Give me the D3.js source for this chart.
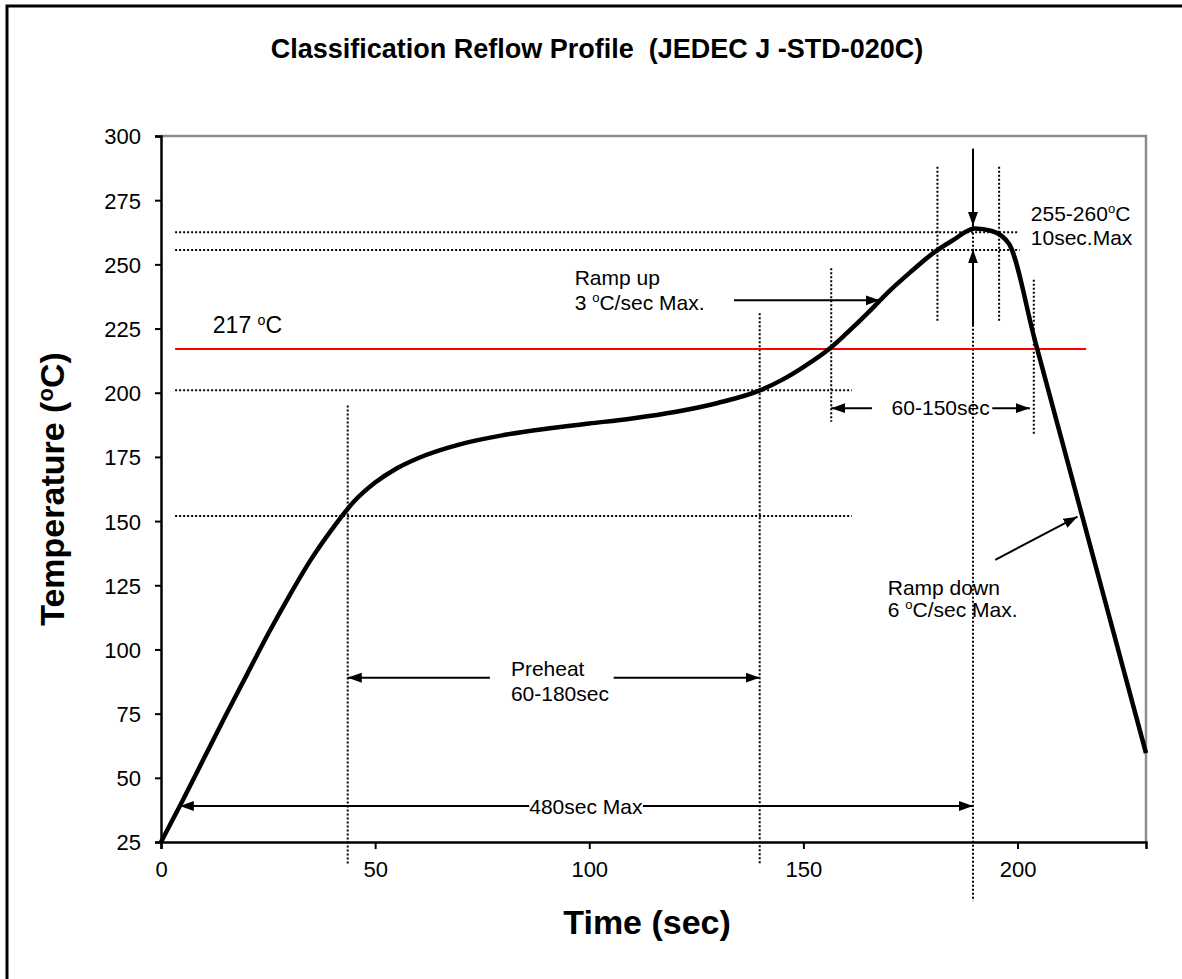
<!DOCTYPE html>
<html>
<head>
<meta charset="utf-8">
<script src="https://cdn.jsdelivr.net/npm/d3@7"></script>
<style>
  body { margin: 0; background: #fff; }
  svg { display: block; font-family: "Liberation Sans", Arial, sans-serif; }
  .pre { white-space: pre; }
</style>
</head>
<body>
<svg id="chart" width="1182" height="979"></svg>
<script>
// reflow profile (sec, degC)
var timeSec = [0, 5, 10, 15, 20, 25, 30, 35, 40, 45, 50, 55, 60, 70, 80, 90, 100, 110, 120, 130,
  140, 145, 150, 156, 160, 165, 170, 175, 180, 185, 190, 194, 198, 204, 210, 215, 220, 225, 230]
var tempC = [25, 41, 57.5, 74, 90, 106, 121, 135, 147, 157.5, 165, 170.5, 174.5, 180, 183.5, 186, 188, 190, 192.5, 196,
  201, 205, 210, 217, 223, 231, 239.5, 247, 254, 259.5, 264, 263, 258, 220.8, 183.6, 152.6, 121.6, 90.6, 59.6]

var xTicks = [0, 50, 100, 150, 200]
var yTicks = [25, 50, 75, 100, 125, 150, 175, 200, 225, 250, 275, 300]

var liquidus = 217
var liquidusSpan = [3.3, 216]

// dotted guide lines [value, from, to]
var hGuides = [[262.5, 3.3, 200.3], [255.6, 3.3, 200.5], [201, 3.3, 161.3], [152, 3.3, 161.3]]
// vertical guides [sec, from degC, to degC]
var vGuides = [[43.6, 195, 16], [139.8, 231, 16], [156.5, 248.5, 188.7], [181.3, 288, 228],
  [195.7, 288, 228], [189.6, 295, 2], [203.8, 244, 184]]

var width = 1182, height = 979
var svg = d3.select('#chart')

var x = d3.scaleLinear().domain([0, 230]).range([161, 1146])
var y = d3.scaleLinear().domain([25, 300]).range([842, 136])

// arrow heads
var defs = svg.append('defs')
defs.append('marker')
  .attr('id', 'head')
  .attr('markerUnits', 'userSpaceOnUse')
  .attr('viewBox', '0 -6 14 12')
  .attr('refX', 14).attr('refY', 0)
  .attr('markerWidth', 14).attr('markerHeight', 12)
  .attr('orient', 'auto-start-reverse')
  .append('path').attr('d', 'M0,-5L14,0L0,5Z').attr('fill', '#000')

// outer frame (only left and top edges show)
svg.append('path')
  .attr('d', 'M7,' + height + 'V6H' + width)
  .attr('fill', 'none').attr('stroke', '#000').attr('stroke-width', 3)

// plot box, grey top and right
svg.append('path')
  .attr('d', 'M' + x(0) + ',' + y(300) + 'H' + x(230) + 'V' + y(25))
  .attr('fill', 'none').attr('stroke', '#8c8c8c').attr('stroke-width', 2.5)

// axes
var xAxis = svg.append('g')
  .attr('transform', 'translate(0,' + y(25) + ')')
  .call(d3.axisBottom(x).tickValues(xTicks).tickSize(7).tickPadding(12))
var yAxis = svg.append('g')
  .attr('transform', 'translate(' + x(0) + ',0)')
  .call(d3.axisLeft(y).tickValues(yTicks).tickSize(6).tickPadding(14))

svg.selectAll('.domain').attr('stroke', '#000').attr('stroke-width', 2.5)
svg.selectAll('.tick line').attr('stroke', '#000').attr('stroke-width', 2)
svg.selectAll('.tick text').attr('font-size', 22).attr('fill', '#000')
  .attr('font-family', '"Liberation Sans", Arial, sans-serif')
yAxis.selectAll('.tick text').attr('dy', '0.36em')

// dotted guides
svg.append('g').selectAll('line.h')
  .data(hGuides).join('line')
  .attr('x1', function(d) { return x(d[1]) })
  .attr('x2', function(d) { return x(d[2]) })
  .attr('y1', function(d) { return y(d[0]) })
  .attr('y2', function(d) { return y(d[0]) })
  .attr('stroke', '#000').attr('stroke-width', 2).attr('stroke-dasharray', '2,2')

svg.append('g').selectAll('line.v')
  .data(vGuides).join('line')
  .attr('x1', function(d) { return x(d[0]) })
  .attr('x2', function(d) { return x(d[0]) })
  .attr('y1', function(d) { return y(d[1]) })
  .attr('y2', function(d) { return y(d[2]) })
  .attr('stroke', '#000').attr('stroke-width', 2).attr('stroke-dasharray', '2,2')

// 217 line
svg.append('line')
  .attr('x1', x(liquidusSpan[0])).attr('x2', x(liquidusSpan[1]))
  .attr('y1', y(liquidus)).attr('y2', y(liquidus))
  .attr('stroke', '#ff0000').attr('stroke-width', 2)

// profile curve
var line = d3.line()
  .x(function(d, i) { return x(timeSec[i]) })
  .y(function(d, i) { return y(tempC[i]) })
  .curve(d3.curveMonotoneX)

svg.append('path')
  .datum(tempC)
  .attr('d', line)
  .attr('fill', 'none').attr('stroke', '#000').attr('stroke-width', 4.5)
  .attr('stroke-linejoin', 'round')

// arrows [x1, y1, x2, y2, heads]
function arrow(x1, y1, x2, y2, both) {
  var a = svg.append('line')
    .attr('x1', x(x1)).attr('y1', y(y1))
    .attr('x2', x(x2)).attr('y2', y(y2))
    .attr('stroke', '#000').attr('stroke-width', 2)
    .attr('marker-end', 'url(#head)')
  if (both) a.attr('marker-start', 'url(#head)')
  return a
}

arrow(4.4, 39, 189.6, 39, true)
arrow(76.8, 89, 43.6, 89)
arrow(105.7, 89, 139.8, 89)
arrow(166, 194, 156.5, 194)
arrow(194.1, 194, 202.9, 194)
arrow(133.8, 236, 167.8, 236)
arrow(189.6, 295, 189.6, 265)
arrow(189.6, 226.4, 189.6, 255.8)
arrow(194.8, 134.9, 214, 151.7)

// text helpers
function label(sx, deg, parts, size) {
  var t = svg.append('text')
    .attr('x', x(sx)).attr('y', y(deg))
    .attr('font-size', size || 21).attr('fill', '#000')
  parts.forEach(function(p) {
    if (p.sup) {
      t.append('tspan').attr('font-size', (size || 21) * 0.62).attr('dy', -8).text(p.sup)
      t.append('tspan').attr('dy', 8).text(p.t || '')
    } else {
      t.append('tspan').text(p.t)
    }
  })
  return t
}

label(12.1, 223.3, [{t: '217 '}, {sup: 'o', t: 'C'}], 23)
label(96.6, 242, [{t: 'Ramp up'}])
label(96.6, 232.2, [{t: '3 '}, {sup: 'o', t: 'C/sec Max.'}])
label(81.7, 89.7, [{t: 'Preheat'}])
label(81.7, 79.9, [{t: '60-180sec'}])
label(170.6, 191.3, [{t: '60-150sec'}])
label(203.1, 266.8, [{t: '255-260'}, {sup: 'o', t: 'C'}])
label(203.1, 257.5, [{t: '10sec.Max'}])
label(169.7, 121.2, [{t: 'Ramp down'}])
label(169.7, 112.5, [{t: '6 '}, {sup: 'o', t: 'C/sec Max.'}])

// 480 sec label sits on the arrow with a white box
var t480 = svg.append('text')
  .attr('x', x(99.2)).attr('y', y(39)).attr('dy', '0.36em')
  .attr('text-anchor', 'middle').attr('font-size', 21).text('480sec Max')
var bb = t480.node().getBBox()
svg.insert('rect', function() { return t480.node() })
  .attr('x', bb.x).attr('y', bb.y + 3).attr('width', bb.width).attr('height', bb.height - 6)
  .attr('fill', '#fff')

// titles
svg.append('text')
  .attr('class', 'pre')
  .attr('x', 597).attr('y', 58)
  .attr('text-anchor', 'middle').attr('font-weight', 'bold').attr('font-size', 27)
  .text('Classification Reflow Profile  (JEDEC J -STD-020C)')

svg.append('text')
  .attr('x', x(113.5)).attr('y', 934)
  .attr('text-anchor', 'middle').attr('font-weight', 'bold').attr('font-size', 34)
  .text('Time (sec)')

var yt = svg.append('text')
  .attr('transform', 'translate(64,' + (y(162.5)) + ') rotate(-90)')
  .attr('text-anchor', 'middle').attr('font-weight', 'bold').attr('font-size', 34)
yt.append('tspan').text('Temperature (')
yt.append('tspan').attr('font-size', 22).attr('dy', -11).text('o')
yt.append('tspan').attr('dy', 11).text('C)')
</script>
</body>
</html>
